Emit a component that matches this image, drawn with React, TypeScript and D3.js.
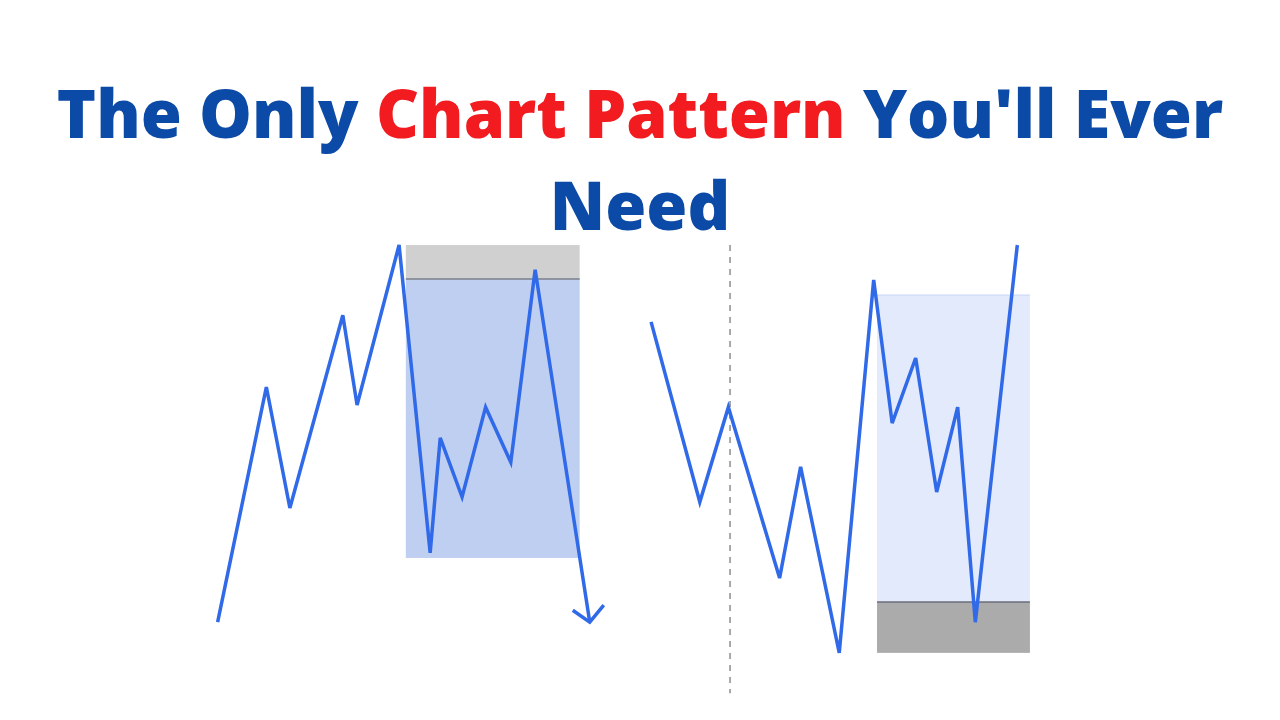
import React, { useEffect, useRef } from 'react';
import * as d3 from 'd3';

// time axis runs 0..100, price axis runs 0..100
const leftTime = [2.1, 7.9, 10.7, 17.0, 18.7, 23.7, 27.4, 28.6, 31.2, 34.0, 37.0, 39.9, 46.4];
const leftPrice = [9.0, 65.0, 36.2, 82.1, 60.7, 98.8, 25.5, 52.9, 38.8, 60.2, 47.1, 92.9, 9.0];

const rightTime = [53.7, 59.5, 62.9, 69.0, 71.5, 76.1, 80.2, 82.4, 85.2, 87.7, 90.2, 92.3, 97.3];
const rightPrice = [80.5, 37.6, 60.2, 19.5, 46.0, 1.7, 90.5, 56.4, 71.9, 40.0, 60.2, 9.0, 98.8];

// zones: [t0, t1, pLow, pHigh]
const leftSupplyCap = [24.5, 45.2, 90.7, 98.8];
const leftRange = [24.5, 45.2, 24.3, 90.7];
const rightRange = [80.6, 98.8, 13.8, 86.9];
const rightDemandBase = [80.6, 98.8, 1.7, 13.8];

const breakTime = 63.1;
const breakSpan = [-7.9, 98.8];

const titleLine1 = [
  { text: 'The Only ', color: '#0b4aa6' },
  { text: 'Chart Pattern', color: '#f21b1f' },
  { text: " You'll Ever", color: '#0b4aa6' },
];
const titleLine2 = 'Need';

const W = 1280;
const H = 720;
const LINE = '#306ae8';

export default function App() {
  const svgRef = useRef<SVGSVGElement>(null);

  useEffect(() => {
    document.body.style.margin = '0';
    if (!svgRef.current) return;
    const svg = d3.select(svgRef.current);
    svg.selectAll('*').remove();

    const x = d3.scaleLinear().domain([0, 100]).range([200, 1040]);
    const y = d3.scaleLinear().domain([0, 100]).range([660, 240]);

    const zone = (z: number[], fill: string) => {
      svg.append('rect')
        .attr('x', x(z[0]))
        .attr('y', y(z[3]))
        .attr('width', x(z[1]) - x(z[0]))
        .attr('height', y(z[2]) - y(z[3]))
        .attr('fill', fill);
    };

    zone(leftSupplyCap, '#d0d0d0');
    zone(leftRange, '#bfcff2');
    zone(rightRange, '#e2eafb');
    zone(rightDemandBase, '#ababab');

    // boundary lines between zones
    const edge = (z: number[], color: string, w: number) => {
      svg.append('line')
        .attr('x1', x(z[0])).attr('x2', x(z[1]))
        .attr('y1', y(z[3])).attr('y2', y(z[3]))
        .attr('stroke', color).attr('stroke-width', w);
    };
    edge(leftRange, '#7a7f8a', 1.5);
    edge(rightRange, '#c8d6f6', 1);
    edge(rightDemandBase, '#6a6e78', 1.5);

    svg.append('line')
      .attr('x1', x(breakTime)).attr('x2', x(breakTime))
      .attr('y1', y(breakSpan[1])).attr('y2', y(breakSpan[0]))
      .attr('stroke', '#8c8c8c').attr('stroke-width', 1.5)
      .attr('stroke-dasharray', '6 6');

    const drawSeries = (ts: number[], ps: number[]) => {
      const pts: [number, number][] = ts.map((t, i) => [x(t), y(ps[i])]);
      svg.append('path')
        .attr('d', d3.line()(pts))
        .attr('fill', 'none')
        .attr('stroke', LINE)
        .attr('stroke-width', 3.5)
        .attr('stroke-linejoin', 'miter');
      return pts;
    };

    const lp = drawSeries(leftTime, leftPrice);
    drawSeries(rightTime, rightPrice);

    // arrow head at the end of the left move
    const [ex, ey] = lp[lp.length - 1];
    svg.append('path')
      .attr('d', `M${ex - 17},${ey - 12}L${ex},${ey}L${ex + 14},${ey - 17}`)
      .attr('fill', 'none')
      .attr('stroke', LINE)
      .attr('stroke-width', 3.5);

    const font = '"Open Sans", "Noto Sans", sans-serif';
    const t1 = svg.append('text')
      .attr('x', W / 2)
      .attr('y', 138)
      .attr('text-anchor', 'middle')
      .style('font-family', font)
      .style('font-weight', 800)
      .style('font-size', '66.5px');
    titleLine1.forEach(s => {
      t1.append('tspan').attr('fill', s.color).text(s.text);
    });
    svg.append('text')
      .attr('x', W / 2)
      .attr('y', 230)
      .attr('text-anchor', 'middle')
      .attr('fill', '#0b4aa6')
      .style('font-family', font)
      .style('font-weight', 800)
      .style('font-size', '66.5px')
      .text(titleLine2);
  }, []);

  return <svg ref={svgRef} width={W} height={H} style={{ display: 'block', background: '#fff' }} />;
}
